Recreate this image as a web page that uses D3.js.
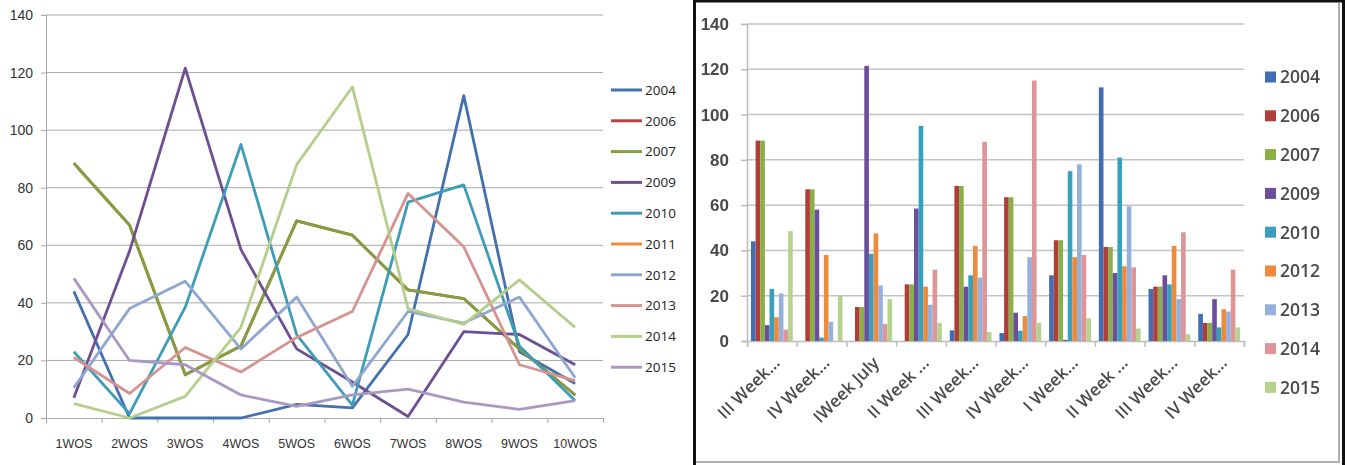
<!DOCTYPE html>
<html>
<head>
<meta charset="utf-8">
<script src="https://cdn.jsdelivr.net/npm/d3@7"></script>
<style>
  body { margin: 0; background: #fff; }
  svg { display: block; font-family: "Open Sans", "DejaVu Sans", sans-serif; }
</style>
</head>
<body>
<svg id="chart" width="1348" height="465"></svg>
<script>
// === Data (same values in both charts) ===
const weeksLine = ["1WOS", "2WOS", "3WOS", "4WOS", "5WOS", "6WOS", "7WOS", "8WOS", "9WOS", "10WOS"];
const weeksBar = ["III Week...", "IV Week...", "IWeek July", "II Week ...", "III Week...", "IV Week...", "I Week...", "II Week ...", "III Week...", "IV Week..."];

const v2004 = [44, 0, 0, 0, 4.7, 3.5, 29, 112, 23, 12];
const v2006 = [88.5, 67, 15, 25, 68.5, 63.5, 44.5, 41.5, 24, 8];
const v2007 = [88.5, 67, 15, 25, 68.5, 63.5, 44.5, 41.5, 24, 8];
const v2009 = [7, 58, 121.5, 58.5, 24, 12.5, 0.5, 30, 29, 18.5];
const v2010 = [23, 1.5, 38.5, 95, 29, 4.5, 75, 81, 25, 6];
const v2011 = [];   // only in the legend of the line chart
const v2012 = [10.5, 38, 47.5, 24, 42, 11, 37, 33, 42, 14];
const v2013 = [21, 8.5, 24.5, 16, 28, 37, 78, 59.5, 18.5, 13];
const v2014 = [5, 0, 7.5, 31.5, 88, 115, 38, 32.5, 48, 31.5];
const v2015 = [48.5, 20, 18.5, 8, 4, 8, 10, 5.5, 3, 6];

const yTicks = [0, 20, 40, 60, 80, 100, 120, 140];

const lineSeries = [
  { year: "2004", values: v2004, color: "#4470AE" },
  { year: "2006", values: v2006, color: "#B9433F" },
  { year: "2007", values: v2007, color: "#83A03F" },
  { year: "2009", values: v2009, color: "#6E5092" },
  { year: "2010", values: v2010, color: "#3E9DB6" },
  { year: "2011", values: v2011, color: "#EE8A3C" },
  { year: "2012", values: v2012, color: "#8EA7D1" },
  { year: "2013", values: v2013, color: "#D69290" },
  { year: "2014", values: v2014, color: "#B5CE8C" },
  { year: "2015", values: v2015, color: "#A999C2" }
];

const barSeries = [
  { year: "2004", values: v2004, color: "#3F6DB3" },
  { year: "2006", values: v2006, color: "#B13D3A" },
  { year: "2007", values: v2007, color: "#8AAF4A" },
  { year: "2009", values: v2009, color: "#6C4F9C" },
  { year: "2010", values: v2010, color: "#37A0BD" },
  { year: "2012", values: v2012, color: "#EE8A3C" },
  { year: "2013", values: v2013, color: "#94B0DD" },
  { year: "2014", values: v2014, color: "#DE9597" },
  { year: "2015", values: v2015, color: "#B6D28E" }
];

const svg = d3.select("#chart");

// ==================== LINE CHART (left) ====================
const lx = d3.scaleBand().domain(d3.range(10)).range([46, 603]).padding(0);
const lxEdge = d3.scaleLinear().domain([0, 10]).range([46, 603]);
const ly = d3.scaleLinear().domain([0, 140]).range([418, 15]);

const left = svg.append("g");

// gridlines
left.selectAll(".grid").data(yTicks.filter(d => d > 0)).enter()
  .append("line")
  .attr("x1", 46).attr("x2", 603)
  .attr("y1", d => ly(d)).attr("y2", d => ly(d))
  .attr("stroke", "#A8A8A8").attr("stroke-width", 1);

// y axis
const lyAxis = left.append("g")
  .attr("transform", "translate(46,0)")
  .call(d3.axisLeft(ly).tickValues(yTicks).tickSize(5).tickPadding(8));
lyAxis.selectAll("text").attr("font-size", 14).attr("fill", "#333");

// x axis: marks at band edges, labels at centres
const lxMarks = left.append("g")
  .attr("transform", "translate(0,418)")
  .call(d3.axisBottom(lxEdge).tickValues(d3.range(11)).tickSize(5).tickFormat(""));
const lxLabels = left.append("g")
  .attr("transform", "translate(0,418)")
  .call(d3.axisBottom(lx).tickSize(0).tickPadding(21).tickFormat(i => weeksLine[i]));
lxLabels.select(".domain").remove();
lxLabels.selectAll("text").attr("font-size", 12.5).attr("fill", "#333");

[lyAxis, lxMarks].forEach(a => {
  a.select(".domain").attr("stroke", "#A8A8A8");
  a.selectAll(".tick line").attr("stroke", "#A8A8A8");
});

// lines
const lineGen = d3.line()
  .x((d, i) => lx(i) + lx.bandwidth() / 2)
  .y(d => ly(d));

left.selectAll(".series").data(lineSeries).enter()
  .append("path")
  .attr("d", d => d.values.length ? lineGen(d.values) : null)
  .attr("fill", "none")
  .attr("stroke", d => d.color)
  .attr("stroke-width", 2.8)
  .attr("stroke-linejoin", "round");

// legend
const lLegend = left.selectAll(".leg").data(lineSeries).enter()
  .append("g")
  .attr("transform", (d, i) => `translate(611, ${90 + i * 30.8})`);
lLegend.append("line")
  .attr("x1", 0).attr("x2", 31)
  .attr("stroke", d => d.color).attr("stroke-width", 3);
lLegend.append("text")
  .attr("x", 34).attr("dy", "0.36em")
  .attr("font-size", 13.5).attr("fill", "#222")
  .text(d => d.year);

// ==================== BAR CHART (right) ====================
const defs = svg.append("defs");
defs.append("filter").attr("id", "soft")
  .append("feGaussianBlur").attr("stdDeviation", 0.55);

// frame
svg.append("rect")
  .attr("x", 694.5).attr("y", 1).attr("width", 649).attr("height", 470)
  .attr("fill", "none").attr("stroke", "#111").attr("stroke-width", 3);
svg.append("path")
  .attr("d", "M1339,3 V462 H696")
  .attr("fill", "none").attr("stroke", "#B0B0B0").attr("stroke-width", 2);

const right = svg.append("g").attr("filter", "url(#soft)");

const bx = d3.scaleBand().domain(d3.range(10)).range([747, 1244]).padding(0);
const bxEdge = d3.scaleLinear().domain([0, 10]).range([747, 1244]);
const bx1 = d3.scaleBand().domain(barSeries.map(s => s.year))
  .range([0, bx.bandwidth()]).paddingInner(0).paddingOuter(0.85);
const by = d3.scaleLinear().domain([0, 140]).range([341, 24]);

right.selectAll(".grid").data(yTicks.filter(d => d > 0)).enter()
  .append("line")
  .attr("x1", 747).attr("x2", 1244)
  .attr("y1", d => by(d)).attr("y2", d => by(d))
  .attr("stroke", "#C4C4C4").attr("stroke-width", 1.5);

const byAxis = right.append("g")
  .attr("transform", "translate(747,0)")
  .call(d3.axisLeft(by).tickValues(yTicks).tickSize(6).tickPadding(12));
byAxis.selectAll("text").attr("font-size", 17).attr("font-weight", 600).attr("fill", "#4a4a4a");

const bxMarks = right.append("g")
  .attr("transform", "translate(0,341)")
  .call(d3.axisBottom(bxEdge).tickValues(d3.range(11)).tickSize(6).tickFormat(""));

[byAxis, bxMarks].forEach(a => {
  a.select(".domain").attr("stroke", "#BDBDBD").attr("stroke-width", 1.5);
  a.selectAll(".tick line").attr("stroke", "#BDBDBD").attr("stroke-width", 1.5);
});

// bars
const groups = right.selectAll(".grp").data(d3.range(10)).enter()
  .append("g")
  .attr("transform", i => `translate(${bx(i)},0)`);
groups.selectAll("rect")
  .data(i => barSeries.map(s => ({ year: s.year, value: s.values[i], color: s.color })))
  .enter()
  .append("rect")
  .attr("x", d => bx1(d.year))
  .attr("y", d => by(d.value))
  .attr("width", bx1.bandwidth())
  .attr("height", d => by(0) - by(d.value))
  .attr("fill", d => d.color);

// rotated category labels
right.selectAll(".xlab").data(d3.range(10)).enter()
  .append("text")
  .attr("transform", i => `translate(${bx(i) + bx.bandwidth() / 2 + 9}, 364) rotate(-45)`)
  .attr("text-anchor", "end")
  .attr("font-size", 17).attr("font-weight", 600).attr("fill", "#4a4a4a")
  .text(i => weeksBar[i]);

// legend
const bLegend = right.selectAll(".bleg").data(barSeries).enter()
  .append("g")
  .attr("transform", (d, i) => `translate(1265, ${77 + i * 38.8})`);
bLegend.append("rect")
  .attr("x", 0).attr("y", -5.5).attr("width", 11).attr("height", 11)
  .attr("fill", d => d.color);
bLegend.append("text")
  .attr("x", 15).attr("dy", "0.36em")
  .attr("font-size", 17.5).attr("font-weight", 600).attr("fill", "#4a4a4a")
  .text(d => d.year);
</script>
</body>
</html>
